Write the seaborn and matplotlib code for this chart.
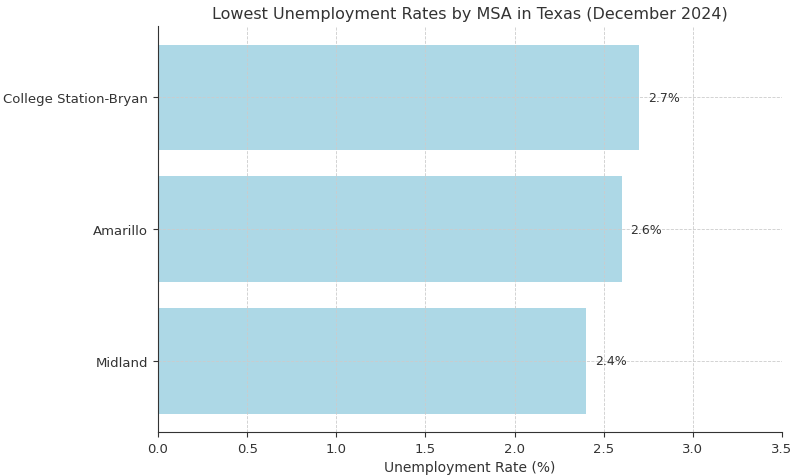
import matplotlib
matplotlib.use("Agg")
import matplotlib.pyplot as plt
import seaborn as sns
import pandas as pd

msa = ["College Station-Bryan", "Amarillo", "Midland"]
rate = [2.7, 2.6, 2.4]

dados = pd.DataFrame({"MSA": msa, "Rate": rate})

fig, ax = plt.subplots(figsize=(8, 4.77), dpi=100)
sns.barplot(dados, x="Rate", y="MSA", color="#ADD8E6", saturation=1, width=0.8, ax=ax)

# rotulos nas barras
for i, v in enumerate(rate):
    ax.text(v + 0.05, i, f"{v}%", va="center", fontsize=9, color="#333333")

ax.set_xlim(0, 3.5)
ax.set_ylim(2.54, -0.54)
ax.set_xlabel("Unemployment Rate (%)", fontsize=10, color="#333333")
ax.set_ylabel("")
ax.set_title("Lowest Unemployment Rates by MSA in Texas (December 2024)", fontsize=11.5, color="#333333")
ax.tick_params(labelsize=9.5, colors="#333333")
ax.grid(True, linestyle="--", linewidth=0.6, color="#cccccc")
ax.set_axisbelow(False)
for s in ["top", "right"]:
    ax.spines[s].set_visible(False)
for s in ["left", "bottom"]:
    ax.spines[s].set_zorder(5)
    ax.spines[s].set_color("#333333")

plt.subplots_adjust(left=0.1975, right=0.9775, top=0.943, bottom=0.092)
plt.savefig("out.png", dpi=100)
